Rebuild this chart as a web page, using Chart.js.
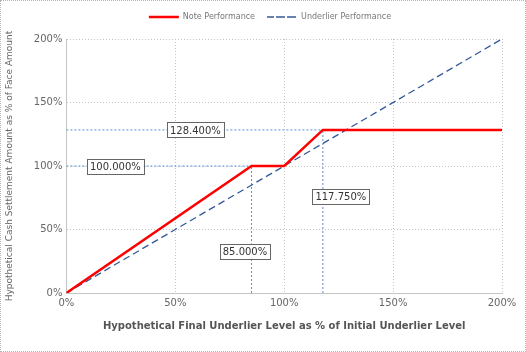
<!DOCTYPE html>
<html>
<head>
<meta charset="utf-8">
<script src="https://cdn.jsdelivr.net/npm/chart.js@4.4.0/dist/chart.umd.min.js"></script>
<style>
  html, body { margin: 0; padding: 0; background: #fff; }
  #wrap { width: 526px; height: 352px; box-sizing: border-box; border: 1px dotted #b5b5b5; position: relative; }
  canvas { display: block; }
</style>
</head>
<body>
<div id="wrap"><canvas id="payoff" width="524" height="350"></canvas></div>
<script>
// данные графика
const noteX = [0, 85, 100, 117.75, 200];
const noteY = [0, 100, 100, 128.4, 128.4];
const underX = [0, 200];
const underY = [0, 200];
const xTicks = [0, 50, 100, 150, 200];
const yTicks = [0, 50, 100, 150, 200];

// опорные линии: [x1, y1, x2, y2]
const refLines = [
    [0, 128.4, 117.75, 128.4],
    [0, 100, 100, 100],
    [85, 0, 85, 100],
    [117.75, 0, 117.75, 128.4]
];
// подписи: текст, x, y (в данных)
const refLabels = ['128.400%', '100.000%', '85.000%', '117.750%'];
const refLabelX = [59.2, 22.5, 82, 126];
const refLabelY = [128.4, 100, 33, 76];

const pts = (xs, ys) => xs.map((x, i) => ({ x: x, y: ys[i] }));

const FONT = 'DejaVu Sans';

// плагин для подписей в рамках
const boxLabels = {
    id: 'boxLabels',
    afterDatasetsDraw(chart) {
        const ctx = chart.ctx;
        const xs = chart.scales.x, ys = chart.scales.y;
        ctx.save();
        ctx.font = '10px ' + FONT;
        ctx.textAlign = 'center';
        ctx.textBaseline = 'middle';
        refLabels.forEach((t, i) => {
            const cx = xs.getPixelForValue(refLabelX[i]);
            const cy = ys.getPixelForValue(refLabelY[i]);
            const w = ctx.measureText(t).width + 6;
            const h = 15;
            ctx.fillStyle = '#fff';
            ctx.fillRect(cx - w / 2, cy - h / 2, w, h);
            ctx.strokeStyle = '#666';
            ctx.lineWidth = 1;
            ctx.setLineDash([]);
            ctx.strokeRect(Math.round(cx - w / 2) + 0.5, Math.round(cy - h / 2) + 0.5, Math.round(w), h);
            ctx.fillStyle = '#333';
            ctx.fillText(t, cx, cy + 1);
        });
        ctx.restore();
    }
};

// отступ под легендой и сдвиг легенды вправо
const legendTweak = {
    id: 'legendTweak',
    beforeInit(chart) {
        const fit = chart.legend.fit;
        chart.legend.fit = function () {
            fit.call(this);
            this.height += 8;
        };
    },
    afterLayout(chart) {
        chart.legend.left += 17;
        chart.legend.right += 17;
    }
};

const refSets = refLines.map(l => ({
    label: 'ref',
    data: [{ x: l[0], y: l[1] }, { x: l[2], y: l[3] }],
    borderColor: '#5b8fd6',
    borderWidth: 1,
    borderDash: [2, 2],
    pointRadius: 0,
    showLine: true,
    order: 2
}));

new Chart(document.getElementById('payoff').getContext('2d'), {
    type: 'scatter',
    data: {
        datasets: [{
            label: 'Note Performance',
            data: pts(noteX, noteY),
            borderColor: '#ff0000',
            backgroundColor: '#ff0000',
            borderWidth: 2.5,
            pointRadius: 0,
            showLine: true,
            order: 0
        }, {
            label: 'Underlier Performance',
            data: pts(underX, underY),
            borderColor: '#34599a',
            backgroundColor: '#34599a',
            borderWidth: 1.3,
            borderDash: [7, 4],
            pointRadius: 0,
            showLine: true,
            order: 1
        }].concat(refSets)
    },
    options: {
        responsive: false,
        animation: false,
        layout: { padding: { left: 3, right: 23, top: 0, bottom: 19 } },
        plugins: {
            legend: {
                position: 'top',
                labels: {
                    filter: item => item.text !== 'ref',
                    boxWidth: 30,
                    boxHeight: 0,
                    color: '#777',
                    font: { family: FONT, size: 8 },
                    padding: 12
                }
            },
            tooltip: { enabled: false }
        },
        scales: {
            x: {
                type: 'linear',
                min: 0, max: 200,
                afterBuildTicks: s => { s.ticks = xTicks.map(v => ({ value: v })); },
                grid: { color: '#c4c4c4', drawTicks: false },
                border: { color: '#c4c4c4', dash: [1, 2] },
                ticks: { color: '#666', font: { family: FONT, size: 10 }, padding: 4, callback: v => v + '%' },
                title: {
                    display: true,
                    text: 'Hypothetical Final Underlier Level as % of Initial Underlier Level',
                    color: '#555',
                    font: { family: FONT, size: 10, weight: 'bold' },
                    padding: { top: 7, bottom: 0 }
                }
            },
            y: {
                type: 'linear',
                min: 0, max: 200,
                afterBuildTicks: s => { s.ticks = yTicks.map(v => ({ value: v })); },
                grid: { color: '#c4c4c4', drawTicks: false },
                border: { color: '#c4c4c4', dash: [1, 2] },
                ticks: { color: '#666', font: { family: FONT, size: 10 }, padding: 4, callback: v => v + '%' },
                title: {
                    display: true,
                    text: 'Hypothetical Cash Settlement Amount as % of Face Amount',
                    color: '#666',
                    font: { family: FONT, size: 9 },
                    padding: { top: 0, bottom: 15 }
                }
            }
        }
    },
    plugins: [boxLabels, legendTweak]
});
</script>
</body>
</html>
